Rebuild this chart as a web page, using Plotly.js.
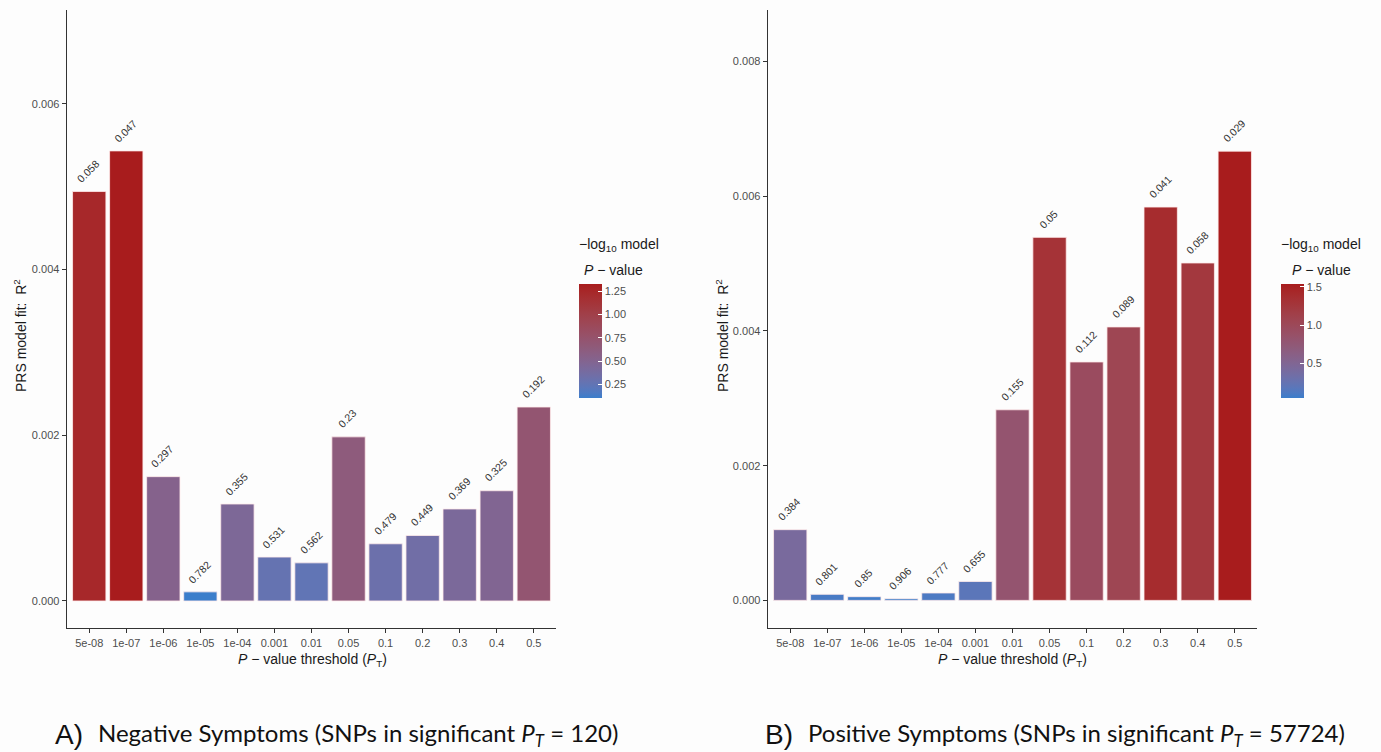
<!DOCTYPE html>
<html><head><meta charset="utf-8">
<script src="https://cdn.plot.ly/plotly-3.0.1.min.js"></script>
<style>html,body{margin:0;padding:0;background:#fdfdfd}</style>
</head><body><div id="chart" style="width:1381px;height:752px"></div>
<script>
// ---- data ----
const thresholds = ["5e-08","1e-07","1e-06","1e-05","1e-04","0.001","0.01","0.05","0.1","0.2","0.3","0.4","0.5"];
const negR2 = [0.00494,0.00543,0.00150,0.00011,0.00117,0.00053,0.00046,0.00198,0.00069,0.00079,0.00111,0.00133,0.00234];
const negP  = [0.058,0.047,0.297,0.782,0.355,0.531,0.562,0.23,0.479,0.449,0.369,0.325,0.192];
const posR2 = [0.00105,0.00009,0.000055,0.000025,0.00011,0.00028,0.00283,0.00539,0.00354,0.00406,0.00584,0.00501,0.00667];
const posP  = [0.384,0.801,0.85,0.906,0.777,0.655,0.155,0.05,0.112,0.089,0.041,0.058,0.029];
const negYTicks = [0,0.002,0.004,0.006];
const negYText = ["0.000","0.002","0.004","0.006"];
const posYTicks = [0,0.002,0.004,0.006,0.008];
const posYText = ["0.000","0.002","0.004","0.006","0.008"];
const negCbTicks = [0.25,0.5,0.75,1.0,1.25];
const negCbText = ["0.25","0.50","0.75","1.00","1.25"];
const posCbTicks = [0.5,1.0,1.5];
const posCbText = ["0.5","1.0","1.5"];

// ---- colour scale (Lab interpolation, like ggplot gradients) ----
const LOW = "#3b7ecb", HIGH = "#a81c1d";
function hex2rgb(h){return [1,3,5].map(i=>parseInt(h.substr(i,2),16));}
function lin(c){c/=255;return c<=0.04045?c/12.92:Math.pow((c+0.055)/1.055,2.4);}
function delin(c){c=c<=0.0031308?12.92*c:1.055*Math.pow(c,1/2.4)-0.055;return Math.round(Math.max(0,Math.min(1,c))*255);}
function rgb2lab(rgb){
  const [R,G,B]=rgb.map(lin);
  const X=(0.4124*R+0.3576*G+0.1805*B)/0.95047, Y=(0.2126*R+0.7152*G+0.0722*B), Z=(0.0193*R+0.1192*G+0.9505*B)/1.08883;
  const f=t=>t>0.008856?Math.cbrt(t):7.787*t+16/116;
  const fx=f(X),fy=f(Y),fz=f(Z);
  return [116*fy-16,500*(fx-fy),200*(fy-fz)];
}
function lab2rgb([L,a,b]){
  const fy=(L+16)/116, fx=fy+a/500, fz=fy-b/200;
  const g=t=>t>0.206893?t*t*t:(t-16/116)/7.787;
  const X=g(fx)*0.95047, Y=g(fy), Z=g(fz)*1.08883;
  const R= 3.2406*X-1.5372*Y-0.4986*Z, G=-0.9689*X+1.8758*Y+0.0415*Z, B=0.0557*X-0.2040*Y+1.0570*Z;
  return [delin(R),delin(G),delin(B)];
}
const lo=rgb2lab(hex2rgb(LOW)), hi=rgb2lab(hex2rgb(HIGH));
const cscale=[];
for(let i=0;i<=20;i++){const t=i/20;const c=lab2rgb(lo.map((v,k)=>v+(hi[k]-v)*t));cscale.push([t,`rgb(${c[0]},${c[1]},${c[2]})`]);}

const negScore = negP.map(p=>-Math.log10(p));
const posScore = posP.map(p=>-Math.log10(p));

// ---- pixel helpers ----
const W=1381,H=752;
const px=x=>x/W, py=y=>1-y/H;
const AX="#333333", TXT="#4d4d4d";

function cbar(x,ticks,text){
  return {x:px(x),xanchor:"left",y:py(341),yanchor:"middle",len:114,lenmode:"pixels",
    thickness:23,thicknessmode:"pixels",xpad:0,ypad:0,outlinewidth:0,
    ticks:"inside",ticklen:4,tickcolor:"#ffffff",tickwidth:1,
    tickvals:ticks,ticktext:text,tickfont:{family:"Liberation Sans, Arial",size:11,color:TXT}};
}

const traces=[
 {type:"bar",x:thresholds,y:negR2,xaxis:"x",yaxis:"y",width:0.9,
  marker:{color:negScore,colorscale:cscale,cmin:Math.min(...negScore),cmax:Math.max(...negScore),
   line:{color:"rgba(255,235,235,0.8)",width:1},showscale:true,colorbar:cbar(579,negCbTicks,negCbText)},
  hoverinfo:"none"},
 {type:"bar",x:thresholds,y:posR2,xaxis:"x2",yaxis:"y2",width:0.9,
  marker:{color:posScore,colorscale:cscale,cmin:Math.min(...posScore),cmax:Math.max(...posScore),
   line:{color:"rgba(255,235,235,0.8)",width:1},showscale:true,colorbar:cbar(1281,posCbTicks,posCbText)},
  hoverinfo:"none"}
];

function xax(d){return {domain:d,range:[-0.6,12.6],type:"category",showline:true,linecolor:AX,linewidth:1.4,
  ticks:"outside",ticklen:4,tickcolor:AX,tickwidth:1,showgrid:false,zeroline:false,
  tickfont:{family:"Liberation Sans, Arial",size:11,color:TXT},automargin:false};}
function yax(r,tv,tt){return {domain:[py(628),py(10)],range:r,showline:true,linecolor:AX,linewidth:1.4,
  ticks:"outside",ticklen:4,tickcolor:AX,tickwidth:1,showgrid:false,zeroline:false,
  tickvals:tv,ticktext:tt,tickfont:{family:"Liberation Sans, Arial",size:11,color:TXT},automargin:false};}

const ann=[];
function barLabels(xref,yref,vals,ps){
  // x given as the category index of each threshold on the category axis
  vals.forEach((v,i)=>ann.push({xref:xref,yref:yref,x:thresholds.indexOf(thresholds[i]),y:v,text:String(ps[i]),showarrow:false,
    textangle:-45,xanchor:"center",yanchor:"bottom",yshift:4,xshift:-1,font:{family:"Liberation Sans, Arial",size:10.5,color:"#333"}}));
}
barLabels("x","y",negR2,negP);
barLabels("x2","y2",posR2,posP);
const F={family:"Liberation Sans, Arial",color:"#1a1a1a"};
[[20,336],[722,336]].forEach(([x,y])=>ann.push({xref:"paper",yref:"paper",x:px(x),y:py(y),textangle:-90,showarrow:false,
  text:"PRS model fit:  R<sup>2</sup>",font:Object.assign({size:14},F),xanchor:"center",yanchor:"middle"}));
[[312,660],[1013,660]].forEach(([x,y])=>ann.push({xref:"paper",yref:"paper",x:px(x),y:py(y),showarrow:false,
  text:"<i>P</i> − value threshold (<i>P</i><sub>T</sub>)",font:Object.assign({size:14},F),xanchor:"center",yanchor:"middle"}));
[[577,582],[1279,1290]].forEach(([x1,x2])=>{
  ann.push({xref:"paper",yref:"paper",x:px(x1),y:py(245),showarrow:false,text:"−log<sub>10</sub> model",
    font:Object.assign({size:14},F),xanchor:"left",yanchor:"middle"});
  ann.push({xref:"paper",yref:"paper",x:px(x2),y:py(270),showarrow:false,text:"<i>P</i> − value",
    font:Object.assign({size:14},F),xanchor:"left",yanchor:"middle"});
});
// captions
[[53,"A)",96,"Negative Symptoms (SNPs in significant <i>P</i><sub><i>T</i></sub> = 120)"],
 [763,"B)",806,"Positive Symptoms (SNPs in significant <i>P</i><sub><i>T</i></sub> = 57724)"]].forEach(([x1,l,x2,t])=>{
  ann.push({xref:"paper",yref:"paper",x:px(x1),y:py(734),showarrow:false,text:l,
    font:{family:"Liberation Sans, Arial",size:28,color:"#111"},xanchor:"left",yanchor:"middle"});
  ann.push({xref:"paper",yref:"paper",x:px(x2),y:py(734),showarrow:false,text:t,
    font:{family:"Lato, Open Sans",size:24,color:"#111"},xanchor:"left",yanchor:"middle"});
});

const layout={width:W,height:H,margin:{l:0,r:0,t:0,b:0},paper_bgcolor:"#fdfdfd",plot_bgcolor:"#fdfdfd",
  showlegend:false,bargap:0.1,
  xaxis:xax([px(67),px(556)]),yaxis:yax([-0.000326,0.00713],negYTicks,negYText),
  xaxis2:Object.assign(xax([px(768),px(1257)]),{anchor:"y2"}),
  yaxis2:Object.assign(yax([-0.00041,0.008766],posYTicks,posYText),{anchor:"x2"}),
  annotations:ann};
layout.xaxis.anchor="y"; layout.yaxis.anchor="x";
Plotly.newPlot("chart",traces,layout,{displayModeBar:false,staticPlot:true});
</script></body></html>
